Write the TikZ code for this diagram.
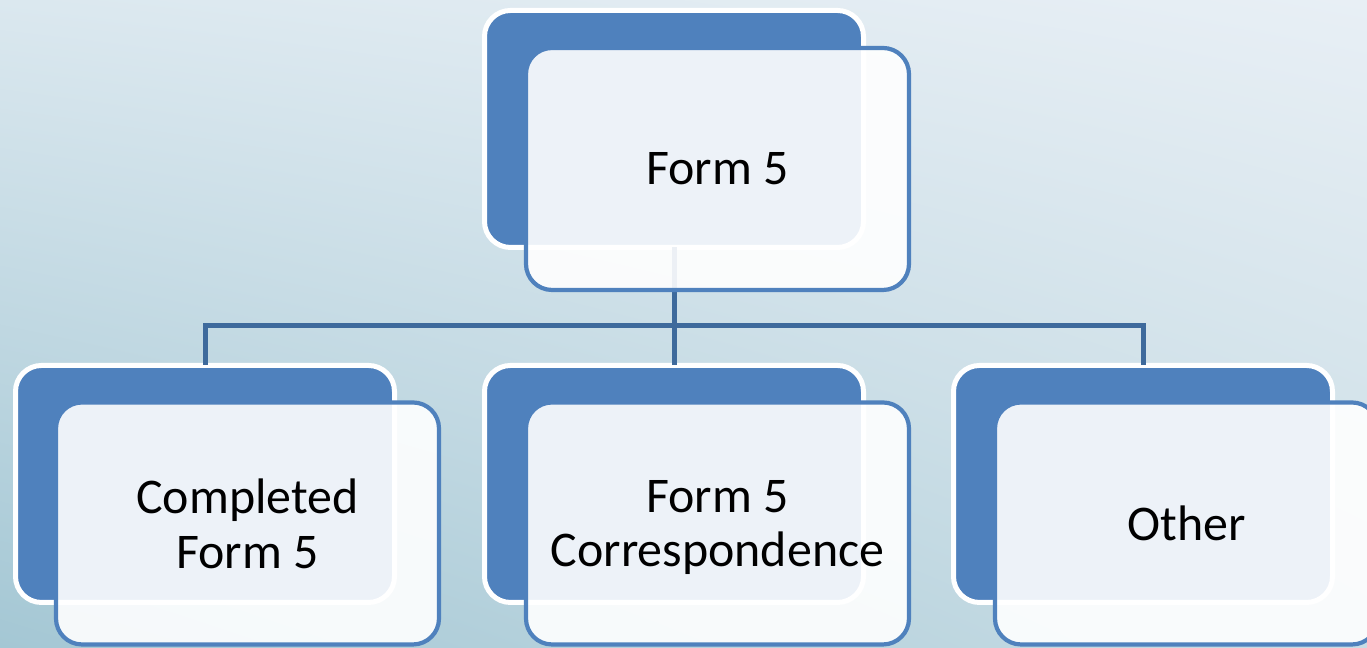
\documentclass[tikz,border=0pt]{standalone}
\usepackage{fontspec}
\setmainfont{Carlito}
\usepackage{xcolor}
\usetikzlibrary{positioning,shadings}

\definecolor{boxblue}{HTML}{4F81BD}
\definecolor{linkblue}{HTML}{3E6A9C}
\definecolor{bgtl}{HTML}{DBE8EF}
\definecolor{bgtr}{HTML}{E8EFF5}
\definecolor{bgbl}{HTML}{A4C7D4}
\definecolor{bgbr}{HTML}{C9DDE5}

\tikzset{
	back/.style={draw=white,line width=0.05cm,fill=boxblue,rounded corners=0.26cm,
		minimum width=3.79cm,minimum height=2.37cm,inner sep=0pt,outer sep=0pt},
	front/.style={draw=boxblue,line width=0.042cm,fill=white,fill opacity=0.9,
		text opacity=1,rounded corners=0.26cm,minimum width=3.83cm,minimum height=2.42cm,
		inner sep=0pt,outer sep=0pt,align=center,text depth=0pt,
		font=\fontsize{14.2}{15.6}\selectfont},
	link/.style={draw=linkblue,line width=0.05cm},
}

\begin{document}
\begin{tikzpicture}[node distance=4.69cm]
		
		\useasboundingbox (0,0) rectangle (13.67,6.48);
		\shade[upper left=bgtl,upper right=bgtr,lower left=bgbl,lower right=bgbr]
		(0,0) rectangle (13.67,6.48);
		
		% dark cards behind
		\node[back] (top-b) at (6.74,5.19) {};
		
		\node[back] (mid-b) at (6.74,1.64) {};
		
		\node[back,left of=mid-b] (left-b) {};
		
		\node[back,right of=mid-b] (right-b) {};
		
		% tree lines
		\draw[link]
		(top-b.south)--++(0,-0.785)
		coordinate (hub);
		
		\draw[link] (hub)-|(left-b.north);
		\draw[link] (hub)--(mid-b.north);
		\draw[link] (hub)-|(right-b.north);
		
		% light cards in front
		\node[front] (form)
		at ([shift={(0.435,-0.40)}]top-b.center)
		{Form 5};
		
		\node[front] (done)
		at ([shift={(0.425,-0.395)}]left-b.center)
		{Completed\\Form 5};
		
		\node[front] (corr)
		at ([shift={(0.435,-0.395)}]mid-b.center)
		{Form 5\\Correspondence};
		
		\node[front] (other)
		at ([shift={(0.435,-0.395)}]right-b.center)
		{Other};
		
	\end{tikzpicture}
\end{document}
